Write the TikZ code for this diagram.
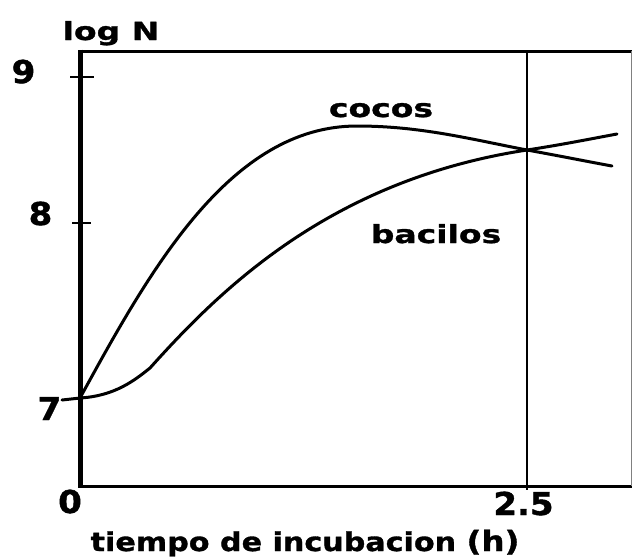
\documentclass[tikz,border=0pt]{standalone}
\usepackage{fontspec}
\newfontfamily\lblfont[FakeStretch=1.32,FakeBold=1.2]{DejaVu Sans Bold}
\newfontfamily\xlfont[FakeStretch=1.16,FakeBold=1.2]{DejaVu Sans Bold}
\newfontfamily\digfont[FakeStretch=1.08,FakeBold=1.3]{DejaVu Sans Bold}
\tikzset{
  lbl/.style={inner sep=0pt, anchor=base, font=\lblfont\fontsize{25}{25}\selectfont},
  xl/.style={inner sep=0pt, anchor=base, font=\xlfont\fontsize{26}{26}\selectfont},
  dig/.style={inner sep=0pt, anchor=base, font=\digfont\fontsize{31.5}{31.5}\selectfont},
  curve/.style={line width=3pt, line cap=round, line join=round},
}
\begin{document}
\begin{tikzpicture}[x=1pt,y=-1pt]
\useasboundingbox (0,0) rectangle (632,558);
% frame
\coordinate (tl) at (80,51);
\coordinate (tr) at (632,51);
\coordinate (bl) at (80,486);
\coordinate (br) at (632,486);
\draw[line width=3pt] (tl) -- (tr);
\draw[line width=3pt] (78,486) -- (br);
\draw[line width=1pt, gray] (631,51) -- (631,486);
\draw[line width=5pt] (80,49.5) -- (80,488);
\coordinate (xt) at (527,50);
\coordinate (xb) at (527,490);
\draw[line width=2pt] (xt) -- (xb);
% ticks
\draw[line width=2pt] (70,77) -- (94,77);
\draw[line width=2pt] (72,223) -- (91,223);
% curves
\coordinate (o) at (80,398);
\coordinate (cross) at (527,150);
\draw[curve] (o) .. controls (150,270) and (230,126) .. (357,126)
  .. controls (420,126) and (470,139) .. (cross)
  .. controls (560,156) and (590,162) .. (612,166);
\draw[curve] (62,400) -- (o) .. controls (115,396) and (135,380) .. (150,368)
  .. controls (220,290) and (330,180) .. (cross)
  .. controls (560,145) and (590,139) .. (617,134);
% labels
\node[lbl] (logN) at (111,40) {log N};
\node[lbl] (cocos) at (381,117) {cocos};
\node[lbl] (bacilos) at (436,243) {bacilos};
\node[xl] (xlab) at (305,551) {tiempo de incubacion {\fontsize{28}{28}\selectfont(h)}};
\node[dig] (d9) at (23.5,83) {9};
\node[dig] (d8) at (40.5,225) {8};
\node[dig] (d7) at (49.5,420) {7};
\node[dig] (d0) at (70,513) {0};
\node[dig] (d25) at (523.5,515) {2.5};
\end{tikzpicture}
\end{document}
